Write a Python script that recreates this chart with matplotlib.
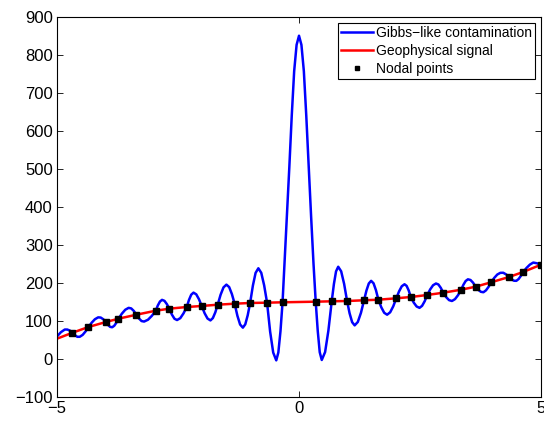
#!/usr/bin/env python3
# -*- coding: utf-8 -*-
"""Gibbs-like contamination vs geophysical signal, MATLAB-style line plot."""

import matplotlib
matplotlib.use("Agg")
import matplotlib.pyplot as plt

# nodal points (also the samples of the smooth geophysical signal)
node_x = [-4.68, -4.35, -3.99, -3.73, -3.36, -2.96, -2.68, -2.32, -2.01, -1.68,
          -1.33, -1.01, -0.66, -0.34, 0.345, 0.676, 0.993, 1.345, 1.64, 2.01,
          2.31, 2.65, 2.98, 3.35, 3.65, 3.97, 4.34, 4.63, 5.0]
node_y = [69.7, 84.7, 97.8, 106.5, 117.0, 127.5, 132.8, 137.2, 139.9, 143.3,
          145.9, 147.8, 148.6, 149.6, 151.2, 152.2, 153.0, 154.9, 156.4, 160.1,
          163.5, 168.8, 174.8, 182.7, 190.6, 202.2, 216.1, 229.2, 248.4]

# geophysical signal (red)
signal_x = [-5.0] + node_x
signal_y = [54.0] + node_y

# Gibbs-like contamination (blue)
gibbs_x = [
    -5.0, -4.92, -4.84, -4.787, -4.733, -4.68, -4.63, -4.58, -4.53, -4.47,
    -4.41, -4.35, -4.283, -4.217, -4.15, -4.097, -4.043, -3.99, -3.947, -3.903,
    -3.86, -3.817, -3.773, -3.73, -3.66, -3.59, -3.52, -3.467, -3.413, -3.36,
    -3.307, -3.253, -3.20, -3.12, -3.04, -2.96, -2.917, -2.873, -2.83, -2.78,
    -2.73, -2.68, -2.627, -2.573, -2.52, -2.453, -2.387, -2.32, -2.273, -2.227,
    -2.18, -2.123, -2.067, -2.01, -1.95, -1.89, -1.83, -1.78, -1.73, -1.68,
    -1.62, -1.56, -1.50, -1.443, -1.387, -1.33, -1.273, -1.217, -1.16, -1.11,
    -1.06, -1.01, -0.953, -0.897, -0.84, -0.78, -0.72, -0.66, -0.597, -0.533,
    -0.47, -0.427, -0.383, -0.34, -0.30, -0.25, -0.20, -0.15, -0.10, -0.05,
    0.0, 0.05, 0.10, 0.15, 0.20, 0.25, 0.30, 0.345, 0.387, 0.428,
    0.47, 0.539, 0.607, 0.676, 0.721, 0.765, 0.81, 0.871, 0.932, 0.993,
    1.045, 1.098, 1.15, 1.215, 1.28, 1.345, 1.393, 1.442, 1.49, 1.54,
    1.59, 1.64, 1.70, 1.76, 1.82, 1.883, 1.947, 2.01, 2.067, 2.123,
    2.18, 2.223, 2.267, 2.31, 2.37, 2.43, 2.49, 2.543, 2.597, 2.65,
    2.71, 2.77, 2.83, 2.88, 2.93, 2.98, 3.04, 3.10, 3.16, 3.223,
    3.287, 3.35, 3.397, 3.443, 3.49, 3.543, 3.597, 3.65, 3.703, 3.757,
    3.81, 3.863, 3.917, 3.97, 4.033, 4.097, 4.16, 4.22, 4.28, 4.34,
    4.39, 4.44, 4.49, 4.537, 4.583, 4.63, 4.70, 4.77, 4.84, 4.92,
    5.0]
gibbs_y = [
    60.0, 71.0, 78.0, 78.0, 75.1, 69.7, 63.1, 58.9, 59.0, 64.0,
    73.1, 84.7, 96.1, 105.1, 110.0, 109.5, 104.9, 97.8, 90.2, 85.1,
    84.0, 88.0, 96.1, 106.5, 119.7, 130.0, 135.0, 133.5, 126.8, 117.0,
    107.1, 100.3, 99.0, 103.8, 114.1, 127.5, 141.3, 151.6, 156.0, 153.4,
    144.8, 132.8, 117.5, 106.4, 103.0, 107.9, 120.4, 137.2, 155.9, 169.6,
    175.0, 170.5, 157.7, 139.9, 120.8, 106.9, 102.0, 108.1, 123.0, 143.3,
    169.5, 188.8, 196.0, 189.6, 171.3, 145.9, 114.2, 91.2, 83.0, 91.8,
    115.5, 147.8, 193.5, 226.9, 239.0, 227.1, 194.0, 148.6, 72.8, 17.4,
    -3.0, 17.7, 73.5, 149.6, 250.0, 375.0, 505.0, 640.0, 757.0, 826.0,
    850.0, 826.0, 757.0, 640.0, 505.0, 375.0, 250.0, 151.2, 74.6, 18.5,
    -2.0, 18.8, 75.2, 152.2, 197.6, 230.8, 243.0, 231.0, 198.0, 153.0,
    120.8, 97.3, 89.0, 97.9, 122.0, 154.9, 180.3, 199.0, 206.0, 199.5,
    181.3, 156.4, 136.5, 122.1, 117.0, 123.3, 139.0, 160.1, 178.2, 191.7,
    197.0, 192.8, 180.5, 163.5, 148.9, 138.6, 135.0, 140.3, 152.5, 168.8,
    183.4, 194.4, 199.0, 196.4, 187.4, 174.8, 163.3, 155.3, 153.0, 157.9,
    168.6, 182.7, 195.7, 205.5, 210.0, 208.2, 201.0, 190.6, 182.5, 177.2,
    176.0, 181.0, 190.3, 202.2, 213.6, 222.6, 227.0, 227.2, 222.8, 216.1,
    210.1, 206.3, 206.0, 210.7, 218.9, 229.2, 239.8, 248.6, 254.0, 252.0,
    248.0]

x_ticks = [-5, 0, 5]
y_ticks = [-100, 0, 100, 200, 300, 400, 500, 600, 700, 800, 900]

plt.rcParams["font.family"] = ["Liberation Sans", "DejaVu Sans"]


def main() -> None:
    fig = plt.figure(figsize=(5.44, 4.24), dpi=100)
    ax = fig.add_axes([0.1048, 0.063, 0.8897, 0.8976])

    ax.plot(gibbs_x, gibbs_y, color="#0000ff", lw=1.8,
            label="Gibbs\u2212like contamination")
    ax.plot(signal_x, signal_y, color="#ff0000", lw=1.8,
            label="Geophysical signal")
    ax.plot(node_x, node_y, ls="none", marker="s", ms=5, color="black",
            label="Nodal points")

    ax.set_xlim(-5, 5)
    ax.set_ylim(-100, 900)
    ax.set_xticks(x_ticks)
    ax.set_yticks(y_ticks)
    ax.tick_params(direction="in", top=True, right=True, length=4,
                   width=0.6, labelsize=12, pad=3)
    for s in ax.spines.values():
        s.set_linewidth(0.8)

    leg = ax.legend(loc="upper right", fontsize=10, fancybox=False,
                    edgecolor="black", framealpha=1, borderpad=0.2,
                    labelspacing=0.3, handlelength=2.3, handletextpad=0.2,
                    markerscale=0.7, borderaxespad=0.45)
    leg.get_frame().set_linewidth(0.8)

    fig.savefig("out.png", dpi=100)
    plt.close(fig)


if __name__ == "__main__":
    main()
